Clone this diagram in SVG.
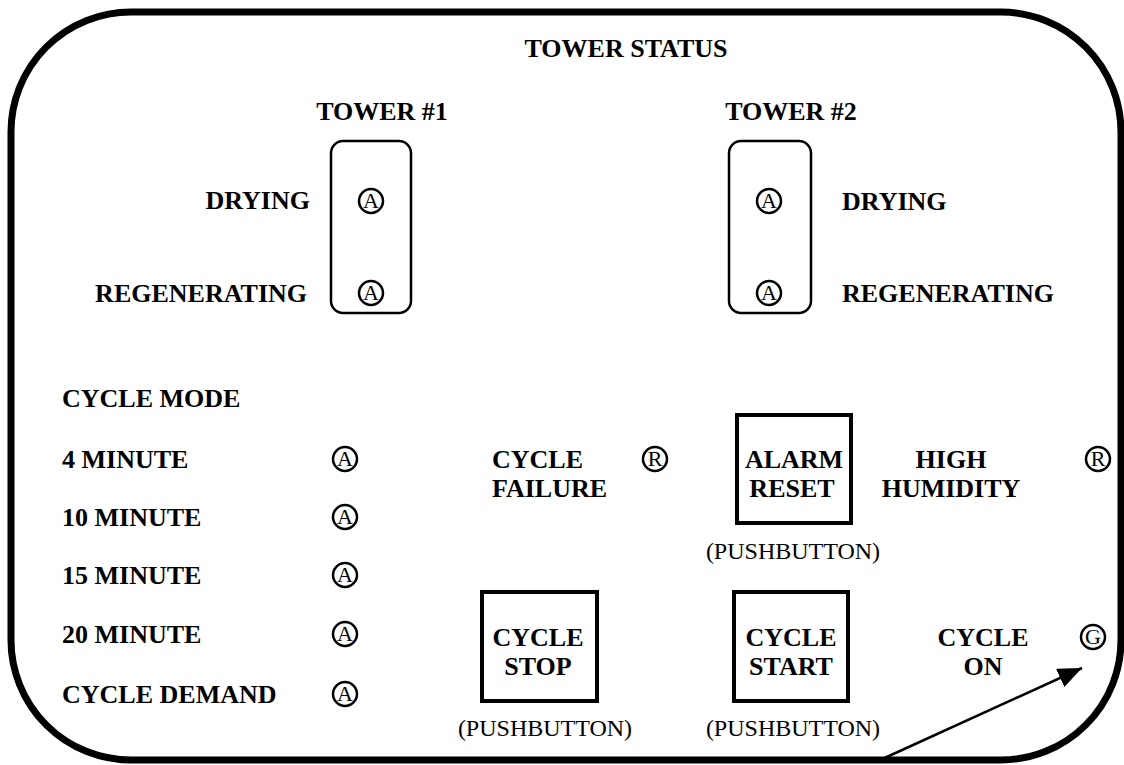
<svg xmlns="http://www.w3.org/2000/svg" width="1124" height="765" viewBox="0 0 1124 765">
<defs>
<style>
.b{font-family:"Liberation Serif","Times New Roman",serif;font-weight:bold;font-size:26px;fill:#000}
.r{font-family:"Liberation Serif","Times New Roman",serif;font-size:24px;fill:#000}
.ind{font-family:"Liberation Serif","Times New Roman",serif;font-size:22px;fill:#000;text-anchor:middle}
.c{fill:none;stroke:#000;stroke-width:2.5}
.box{fill:none;stroke:#000;stroke-width:4}
.m{text-anchor:middle}
</style>
<marker id="ah2" markerWidth="24" markerHeight="20" refX="24" refY="10" orient="auto" markerUnits="userSpaceOnUse">
<path d="M0,0 L24,10 L0,20 z" fill="#000"/>
</marker>
</defs>
<rect width="1124" height="765" fill="#fff"/>
<rect x="11" y="12" width="1110" height="748" rx="120" ry="120" fill="none" stroke="#000" stroke-width="7"/>
<text class="b m" x="626" y="57">TOWER STATUS</text>

<g id="tower1">
<text class="b m" x="382" y="120">TOWER #1</text>
<rect x="331" y="141" width="80" height="172" rx="12" fill="none" stroke="#000" stroke-width="2.5"/>
<text class="b" x="310" y="209" text-anchor="end">DRYING</text>
<text class="b" x="307" y="302" text-anchor="end">REGENERATING</text>
<circle class="c" cx="371" cy="201" r="12"/><text class="ind" x="371" y="208">A</text>
<circle class="c" cx="371" cy="293" r="12"/><text class="ind" x="371" y="300">A</text>
</g>

<g id="tower2">
<text class="b m" x="791" y="120">TOWER #2</text>
<rect x="729" y="141" width="82" height="172" rx="12" fill="none" stroke="#000" stroke-width="2.5"/>
<text class="b" x="842" y="210">DRYING</text>
<text class="b" x="842" y="302">REGENERATING</text>
<circle class="c" cx="769" cy="201" r="12"/><text class="ind" x="769" y="208">A</text>
<circle class="c" cx="769" cy="293" r="12"/><text class="ind" x="769" y="300">A</text>
</g>

<g id="cycle-mode">
<text class="b" x="62" y="407">CYCLE MODE</text>
<text class="b" x="62" y="468">4 MINUTE</text>
<circle class="c" cx="345" cy="459" r="12"/><text class="ind" x="345" y="466">A</text>
<text class="b" x="62" y="526">10 MINUTE</text>
<circle class="c" cx="345" cy="517" r="12"/><text class="ind" x="345" y="524">A</text>
<text class="b" x="62" y="584">15 MINUTE</text>
<circle class="c" cx="345" cy="575" r="12"/><text class="ind" x="345" y="582">A</text>
<text class="b" x="62" y="643">20 MINUTE</text>
<circle class="c" cx="345" cy="634" r="12"/><text class="ind" x="345" y="641">A</text>
<text class="b" x="62" y="703">CYCLE DEMAND</text>
<circle class="c" cx="345" cy="694" r="12"/><text class="ind" x="345" y="701">A</text>
</g>

<g id="cycle-failure">
<text class="b" x="492" y="468">CYCLE</text>
<text class="b" x="492" y="497">FAILURE</text>
<circle class="c" cx="655" cy="459" r="12"/><text class="ind" x="655" y="466">R</text>
</g>

<g id="alarm-reset">
<rect class="box" x="737" y="415" width="114" height="108"/>
<text class="b m" x="794" y="468">ALARM</text>
<text class="b m" x="792" y="497">RESET</text>
<text class="r m" x="793" y="559">(PUSHBUTTON)</text>
</g>

<g id="high-humidity">
<text class="b m" x="951" y="468">HIGH</text>
<text class="b m" x="951" y="497">HUMIDITY</text>
<circle class="c" cx="1098" cy="459" r="12"/><text class="ind" x="1098" y="466">R</text>
</g>

<g id="cycle-stop">
<rect class="box" x="482" y="592" width="115" height="109"/>
<text class="b m" x="538" y="646">CYCLE</text>
<text class="b m" x="538" y="675">STOP</text>
<text class="r m" x="545" y="736">(PUSHBUTTON)</text>
</g>

<g id="cycle-start">
<rect class="box" x="734" y="592" width="114" height="109"/>
<text class="b m" x="791" y="646">CYCLE</text>
<text class="b m" x="791" y="675">START</text>
<text class="r m" x="793" y="736">(PUSHBUTTON)</text>
</g>

<g id="cycle-on">
<text class="b m" x="983" y="646">CYCLE</text>
<text class="b m" x="983" y="675">ON</text>
<circle class="c" cx="1093" cy="637" r="12"/><text class="ind" x="1093" y="644">G</text>
</g>

<g id="connectors">
<line x1="878" y1="761" x2="1082" y2="668" stroke="#000" stroke-width="2.5" marker-end="url(#ah2)"/>
</g>
</svg>
